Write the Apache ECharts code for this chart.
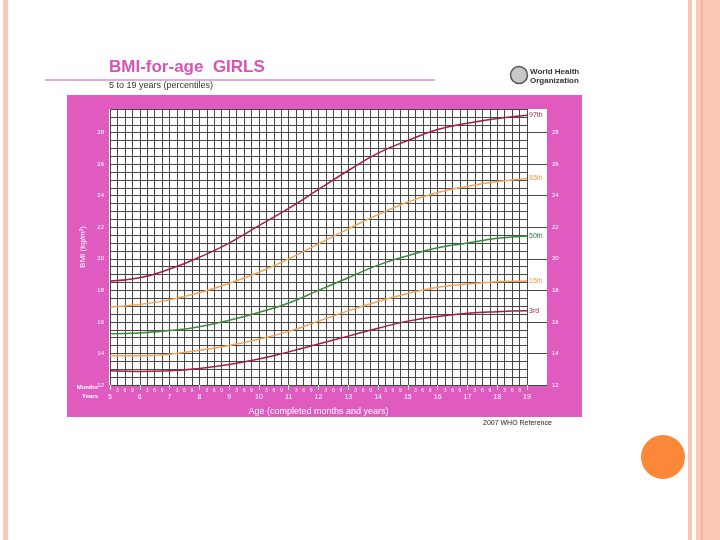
<!DOCTYPE html>
<html>
<head>
<meta charset="utf-8">
<script src="https://cdn.jsdelivr.net/npm/echarts@6/dist/echarts.min.js"></script>
<style>
  html, body { margin: 0; padding: 0; background: #fff; }
  #chart { width: 720px; height: 540px; }
</style>
</head>
<body>
<div id="chart"></div>
<script>
// ages in completed years
const ages = [5, 6, 7, 8, 9, 10, 11, 12, 13, 14, 15, 16, 17, 18, 19]
// BMI percentiles
const p97 = [18.6, 18.8, 19.35, 20.1, 21.0, 22.1, 23.2, 24.4, 25.6, 26.7, 27.5, 28.2, 28.6, 28.9, 29.1]
const p85 = [16.95, 17.1, 17.4, 17.85, 18.45, 19.15, 20.0, 20.95, 21.9, 22.8, 23.6, 24.2, 24.6, 24.9, 25.1]
const p50 = [15.25, 15.3, 15.45, 15.7, 16.1, 16.6, 17.2, 18.0, 18.8, 19.6, 20.2, 20.7, 21.0, 21.3, 21.45]
const p15 = [13.85, 13.85, 13.95, 14.2, 14.5, 14.9, 15.4, 16.05, 16.7, 17.3, 17.8, 18.2, 18.4, 18.55, 18.6]
const p3 = [12.9, 12.85, 12.9, 13.05, 13.3, 13.65, 14.1, 14.6, 15.1, 15.6, 16.05, 16.35, 16.55, 16.65, 16.7]
const yTicks = [12, 14, 16, 18, 20, 22, 24, 26, 28]

const font = '"Liberation Sans", Arial, sans-serif'
const pink = '#df5bbf'
const gridColor = '#474747'

function pairs(vals) {
  return ages.map((a, i) => [a, vals[i]])
}

function curve(name, vals, color, labelColor) {
  return {
    name: name,
    type: 'line',
    data: pairs(vals),
    smooth: true,
    symbol: 'none',
    lineStyle: { width: 1.5, color: color },
    endLabel: {
      show: true,
      formatter: name,
      color: labelColor,
      fontSize: 7,
      fontFamily: font,
      distance: 2
    },
    z: 5
  }
}

const chart = echarts.init(document.getElementById('chart'))

chart.setOption({
  animation: false,
  textStyle: { fontFamily: font },
  graphic: { elements: [
    // slide decorations
    { type: 'rect', z: -20, shape: { x: 3, y: 0, width: 5, height: 540 }, style: { fill: '#f9cbb8' } },
    { type: 'rect', z: -20, shape: { x: 688, y: 0, width: 4, height: 540 }, style: { fill: '#f9c6b2' } },
    { type: 'rect', z: -20, shape: { x: 696, y: 0, width: 24, height: 540 }, style: { fill: '#fbc9b5' } },
    { type: 'line', z: -19, shape: { x1: 702, y1: 0, x2: 702, y2: 540 }, style: { stroke: '#eaa488', lineWidth: 1 } },
    { type: 'circle', z: -19, shape: { cx: 663, cy: 457, r: 22 }, style: { fill: '#fb8738' } },
    // header
    { type: 'text', z: 10, left: 109, top: 59, style: { text: 'BMI-for-age  GIRLS', fill: '#d655b5', font: 'bold 17px ' + font } },
    { type: 'line', z: 10, shape: { x1: 45, y1: 80, x2: 435, y2: 80 }, style: { stroke: '#dc8fcb', lineWidth: 1.5 } },
    { type: 'text', z: 10, left: 109, top: 81, style: { text: '5 to 19 years (percentiles)', fill: '#333', font: '9px ' + font } },
    { type: 'circle', z: 10, shape: { cx: 519, cy: 75, r: 8.5 }, style: { fill: '#c8c8c8', stroke: '#555', lineWidth: 1.5 } },
    { type: 'text', z: 10, left: 530, top: 67, style: { text: 'World Health\nOrganization', fill: '#333', font: 'bold 8px ' + font, lineHeight: 9 } },
    // chart panel
    { type: 'rect', z: -10, shape: { x: 67, y: 95, width: 515, height: 322 }, style: { fill: pink } },
    { type: 'rect', z: -9, shape: { x: 109, y: 109, width: 438, height: 276 }, style: { fill: '#fff' } },
    { type: 'text', z: 10, right: 720 - 98, top: 384, style: { text: 'Months', fill: '#fff', font: 'bold 6px ' + font, align: 'right' } },
    { type: 'text', z: 10, right: 720 - 98, top: 393, style: { text: 'Years', fill: '#fff', font: 'bold 6px ' + font, align: 'right' } },
    { type: 'text', z: 10, left: 483, top: 420, style: { text: '2007 WHO Reference', fill: '#222', font: '7px ' + font } }
  ] },
  grid: { left: 110, right: 193, top: 109, bottom: 155 },
  xAxis: [
    {
      type: 'value',
      min: 5,
      max: 19,
      interval: 0.25,
      name: 'Age (completed months and years)',
      nameLocation: 'middle',
      nameGap: 22,
      nameTextStyle: { color: '#fff', fontSize: 9 },
      axisLine: { show: false },
      axisTick: { show: false },
      splitLine: { show: true, lineStyle: { color: gridColor, width: 1 } },
      axisLabel: {
        color: '#fff',
        fontSize: 5,
        margin: 3,
        formatter: function (v) {
          const m = Math.round((v - 5) * 12) % 12
          return m === 0 ? '' : String(m)
        }
      }
    },
    {
      type: 'value',
      min: 5,
      max: 19,
      interval: 1,
      position: 'bottom',
      axisLine: { show: false },
      axisTick: { show: true, length: 5, inside: false, lineStyle: { color: '#fff', width: 1 } },
      splitLine: { show: false },
      axisLabel: { color: '#fff', fontSize: 7, margin: 9 }
    }
  ],
  yAxis: [
    {
      type: 'value',
      min: 12,
      max: 29.5,
      interval: 0.5,
      name: 'BMI (kg/m²)',
      nameLocation: 'middle',
      nameGap: 21,
      nameTextStyle: { color: '#fff', fontSize: 8 },
      axisLine: { show: false },
      axisTick: { show: false },
      splitLine: { show: true, lineStyle: { color: gridColor, width: 1 } },
      axisLabel: {
        color: '#fff',
        fontSize: 6,
        margin: 6,
        formatter: function (v) { return v % 2 === 0 ? String(v) : '' }
      }
    },
    {
      type: 'value',
      min: 12,
      max: 29.5,
      position: 'right',
      axisLine: { show: false },
      axisTick: { show: true, length: 20, customValues: yTicks, lineStyle: { color: gridColor, width: 1 } },
      splitLine: { show: false },
      axisLabel: { color: '#fff', fontSize: 6, margin: 25, customValues: yTicks }
    }
  ],
  series: [
    curve('97th', p97, '#a3203c', '#b52a3e'),
    curve('85th', p85, '#f2a257', '#ef9b50'),
    curve('50th', p50, '#3b8a3c', '#2e7a30'),
    curve('15th', p15, '#f2a257', '#ef9b50'),
    curve('3rd', p3, '#a3203c', '#b52a3e')
  ]
})
</script>
</body>
</html>
